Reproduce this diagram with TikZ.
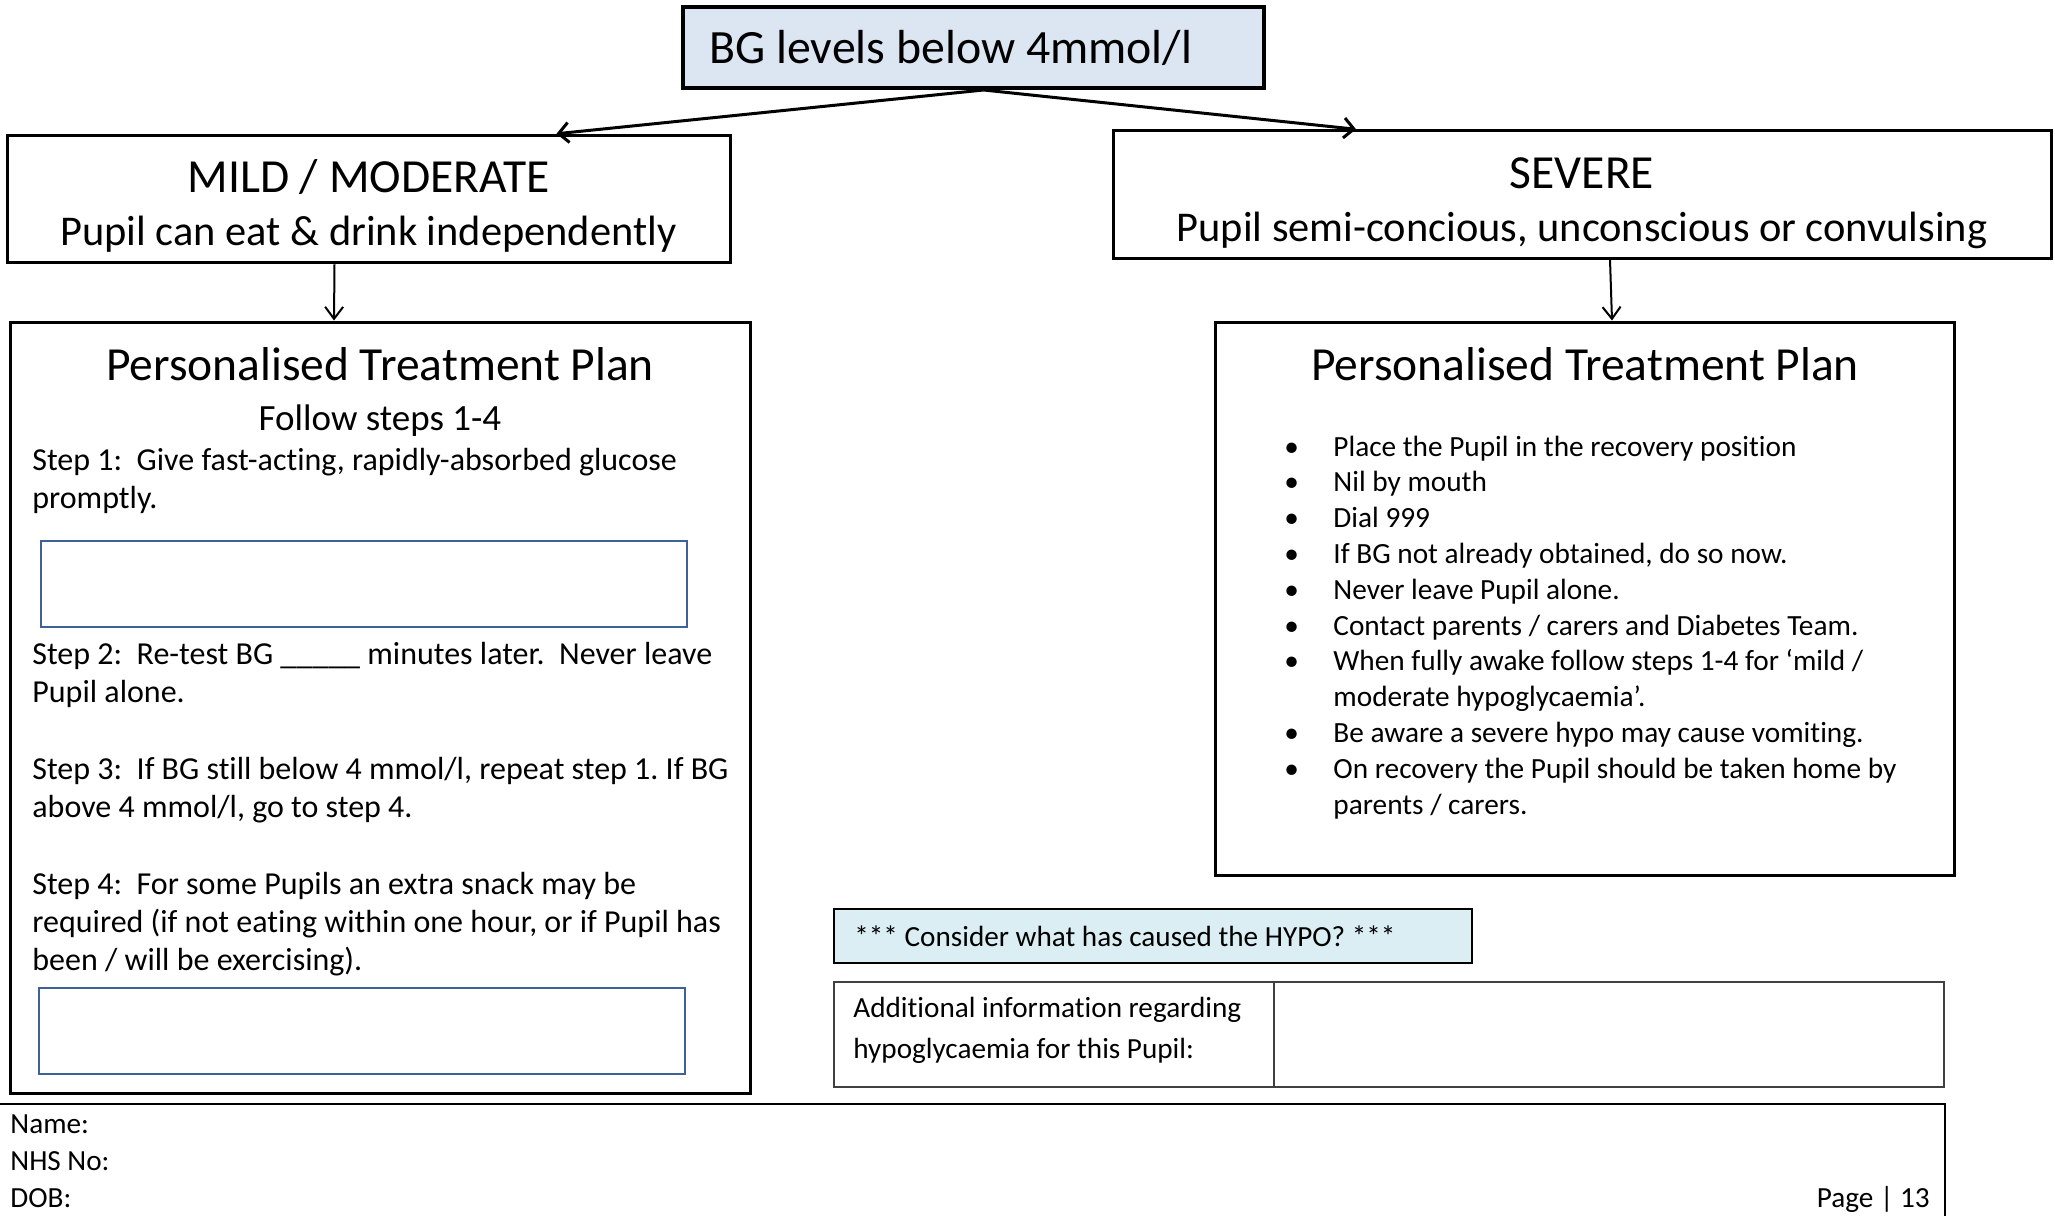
\documentclass[tikz,border=0pt]{standalone}
\usepackage{fontspec}
\setmainfont{Carlito}[Ligatures=NoCommon]
\usepackage{tikz}
\usetikzlibrary{positioning,calc,arrows.meta}
\definecolor{bgblue}{RGB}{220,230,242}
\definecolor{hypocyan}{RGB}{218,238,243}
\definecolor{fieldblue}{RGB}{62,98,152}

\newcommand{\bul}{\makebox[24.5pt][l]{\textbullet}}
\newcommand{\nobul}{\makebox[24.5pt][l]{}}
\frenchspacing

\begin{document}
\begin{tikzpicture}[
    x=0.5pt, y=-0.5pt,
    level/.style={rectangle, draw, line width=2pt, fill=bgblue, minimum width=290.5pt, minimum height=40.5pt},
    grade/.style={rectangle, draw, line width=1.5pt, minimum height=63.75pt},
    plan/.style={rectangle, draw, line width=1.5pt},
    field/.style={rectangle, draw=fieldblue, line width=1pt, minimum width=323pt, minimum height=43pt},
    cell/.style={rectangle, draw=black!75, line width=0.75pt, outer sep=0pt, minimum height=52.5pt},
    gradetitle/.style={anchor=base, inner sep=0pt, font=\fontsize{23.75}{28}\selectfont},
    gradesub/.style={anchor=base, inner sep=0pt, font=\fontsize{21.2}{25}\selectfont},
    steptext/.style={anchor=base west, inner sep=0pt, align=left, font=\fontsize{16}{19}\selectfont},
    note/.style={anchor=base west, inner sep=0pt, font=\fontsize{14.6}{17.9}\selectfont},
    flow/.style={-{Straight Barb[length=5pt,width=10pt]}, line width=1.5pt},
    down/.style={-{Straight Barb[length=6pt,width=9pt]}, line width=1pt}
]
\useasboundingbox (0,0) rectangle (2055,1216);

% top of the chart
\node[level] (bg) at (973.5,47.5) {};
\node[anchor=base west, inner sep=0pt, font=\fontsize{23.9}{28}\selectfont] (bgtext) at (709,63) {BG levels below 4mmol/l};

\node[grade, minimum width=361.5pt] (mild) at (368.5,199) {};
\node[grade, minimum width=469pt] (severe) at (1582,194.5) {};
\node[gradetitle] (mildtitle) at (368.5,192) {MILD / MODERATE};
\node[gradesub] (mildsub) at (368.5,245) {Pupil can eat \& drink independently};
\node[gradetitle] (severetitle) at (1582,188) {SEVERE};
\node[gradesub] (severesub) at (1582,241) {Pupil semi-concious, unconscious or convulsing};

% treatment plans
\node[plan, minimum width=370pt, minimum height=385.5pt] (ptpleft) at (380,707.5) {};
\node[plan, minimum width=369.5pt, minimum height=276.5pt] (ptpright) at (1584.5,598.5) {};
\node[gradetitle] (planleft) at (380,380) {Personalised Treatment Plan};
\node[gradetitle] (planright) at (1585,380) {Personalised Treatment Plan};
\node[anchor=base, inner sep=0pt, font=\fontsize{18.5}{22}\selectfont] (follow) at (380,430) {Follow steps 1-4};

% multi-line nodes sit on their last baseline
\node[steptext] (step1) at (32,508) {Step 1:~ Give fast-acting, rapidly-absorbed glucose\\promptly.};
\node[field] (glucose) at (364,584) {};
\node[steptext] (step2) at (32,702) {Step 2:~ Re-test BG \_\_\_\_\_ minutes later.~ Never leave\\Pupil alone.};
\node[steptext] (step3) at (32,817) {Step 3:~ If BG still below 4 mmol/l, repeat step 1. If BG\\above 4 mmol/l, go to step 4.};
\node[steptext] (step4) at (32,970) {Step 4:~ For some Pupils an extra snack may be\\required (if not eating within one hour, or if Pupil has\\been / will be exercising).};
\node[field] (snack) at (362,1031) {};

\node[note, align=left, font=\fontsize{14.65}{17.9}\selectfont] (severesteps) at (1284,814) {%
\bul Place the Pupil in the recovery position\\
\bul Nil by mouth\\
\bul Dial 999\\
\bul If BG not already obtained, do so now.\\
\bul Never leave Pupil alone.\\
\bul Contact parents / carers and Diabetes Team.\\
\bul When fully awake follow steps 1-4 for ‘mild /\\
\nobul moderate hypoglycaemia’.\\
\bul Be aware a severe hypo may cause vomiting.\\
\bul On recovery the Pupil should be taken home by\\
\nobul parents / carers.};

% notes below
\node[rectangle, draw, line width=1pt, fill=hypocyan, minimum width=319pt, minimum height=27pt] (cause) at (1153,936) {};
\node[note] (causetext) at (854,946) {*** Consider what has caused the HYPO? ***};

\node[cell, minimum width=220pt] (addinfo) at (1054,1034.5) {};
\node[cell, minimum width=335pt, right=0pt of addinfo] (addfield) {};
\node[note, align=left, font=\fontsize{14.6}{20.5}\selectfont] (addtext) at (853,1058) {Additional information regarding\\hypoglycaemia for this Pupil:};

% footer
\draw[line width=1pt] (0,1104) -- (1945,1104) -- (1945,1216);
\node[note] (name) at (10,1133) {Name:};
\node[note] (nhs) at (10,1170) {NHS No:};
\node[note] (dob) at (10,1207) {DOB:};
\node[note, anchor=base east] (page) at (1930,1207) {Page | 13};

\draw[flow] ([xshift=5pt]bg.south) -- ([xshift=94pt]mild.north);
\draw[flow] ([xshift=5pt]bg.south) -- ([xshift=-113pt]severe.north);
\draw[down] ([xshift=-17pt]mild.south) -- ([xshift=-23pt]ptpleft.north);
\draw[down] ([xshift=14pt]severe.south) -- ([xshift=13.75pt]ptpright.north);

\end{tikzpicture}
\end{document}
